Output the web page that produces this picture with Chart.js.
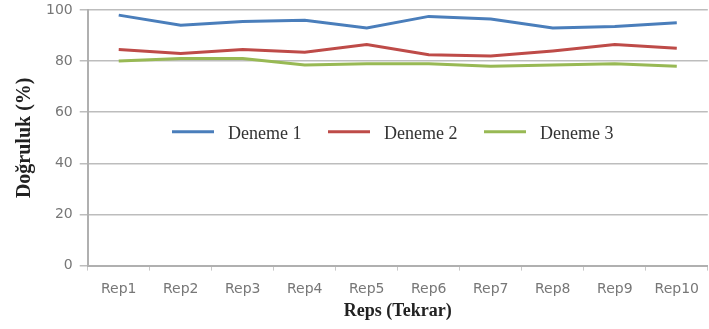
<!DOCTYPE html>
<html>
<head>
<meta charset="utf-8">
<script src="https://cdn.jsdelivr.net/npm/chart.js@4"></script>
<style>
  body { margin: 0; background: #fff; }
  canvas { display: block; }
</style>
</head>
<body>
<canvas id="chart" width="709" height="329"></canvas>
<script>
// values
const reps = ["Rep1", "Rep2", "Rep3", "Rep4", "Rep5", "Rep6", "Rep7", "Rep8", "Rep9", "Rep10"];
const deneme1 = [98, 94, 95.5, 96, 93, 97.5, 96.5, 93, 93.5, 95];
const deneme2 = [84.5, 83, 84.5, 83.5, 86.5, 82.5, 82, 84, 86.5, 85];
const deneme3 = [80, 81, 81, 78.5, 79, 79, 78, 78.5, 79, 78];
const yTicks = [0, 20, 40, 60, 80, 100];

const seriesNames = ["Deneme 1", "Deneme 2", "Deneme 3"];
const seriesColors = ["#4a7ebb", "#be4b48", "#98b954"];

// legend drawn inside the plot, a bit above the 50 line
const innerLegend = {
  id: "innerLegend",
  afterDatasetsDraw(chart) {
    const ctx = chart.ctx;
    const y = chart.scales.y.getPixelForValue(50) - 6;
    const starts = [172, 328, 484];
    ctx.save();
    ctx.font = "18px 'Liberation Serif'";
    ctx.textBaseline = "middle";
    seriesNames.forEach((name, i) => {
      const x = starts[i];
      ctx.strokeStyle = seriesColors[i];
      ctx.lineWidth = 3;
      ctx.beginPath();
      ctx.moveTo(x, y);
      ctx.lineTo(x + 42, y);
      ctx.stroke();
      ctx.fillStyle = "#333";
      ctx.fillText(name, x + 56, y + 2);
    });
    ctx.restore();
  }
};

new Chart(document.getElementById("chart"), {
  type: "line",
  data: {
    labels: reps,
    datasets: [
      { label: seriesNames[0], data: deneme1, borderColor: seriesColors[0] },
      { label: seriesNames[1], data: deneme2, borderColor: seriesColors[1] },
      { label: seriesNames[2], data: deneme3, borderColor: seriesColors[2] }
    ].map(d => ({ ...d, borderWidth: 3, pointRadius: 0, tension: 0, fill: false }))
  },
  options: {
    responsive: false,
    animation: false,
    layout: { padding: { top: 0, right: 0, left: 13, bottom: 7 } },
    plugins: {
      legend: { display: false },
      tooltip: { enabled: false }
    },
    scales: {
      x: {
        offset: true,
        grid: {
          offset: true,
          drawOnChartArea: false,
          tickLength: 5,
          color: "#c8c8c8"
        },
        border: { color: "#b0b0b0", width: 2 },
        ticks: {
          color: "#777",
          font: { family: "DejaVu Sans", size: 14 },
          padding: 10,
          maxRotation: 0
        },
        title: {
          display: true,
          text: "Reps (Tekrar)",
          color: "#222",
          font: { family: "Liberation Serif", size: 18, weight: "bold" },
          padding: { top: -7, bottom: 0 }
        }
      },
      y: {
        min: 0,
        max: 100,
        afterBuildTicks(scale) {
          scale.ticks = yTicks.map(v => ({ value: v }));
        },
        afterFit(scale) {
          // room above the 100 line, as tight as in the reference
          scale.paddingTop = 10;
        },
        grid: {
          color: "#bdbdbd",
          lineWidth: 1.5,
          tickLength: 8
        },
        border: { color: "#b0b0b0", width: 2 },
        ticks: {
          color: "#777",
          font: { family: "DejaVu Sans", size: 14, lineHeight: 1 },
          padding: 7
        },
        title: {
          display: true,
          text: "Doğruluk (%)",
          color: "#222",
          font: { family: "Liberation Serif", size: 20, weight: "bold" },
          padding: { top: 0, bottom: 2 }
        }
      }
    }
  },
  plugins: [innerLegend]
});
</script>
</body>
</html>
